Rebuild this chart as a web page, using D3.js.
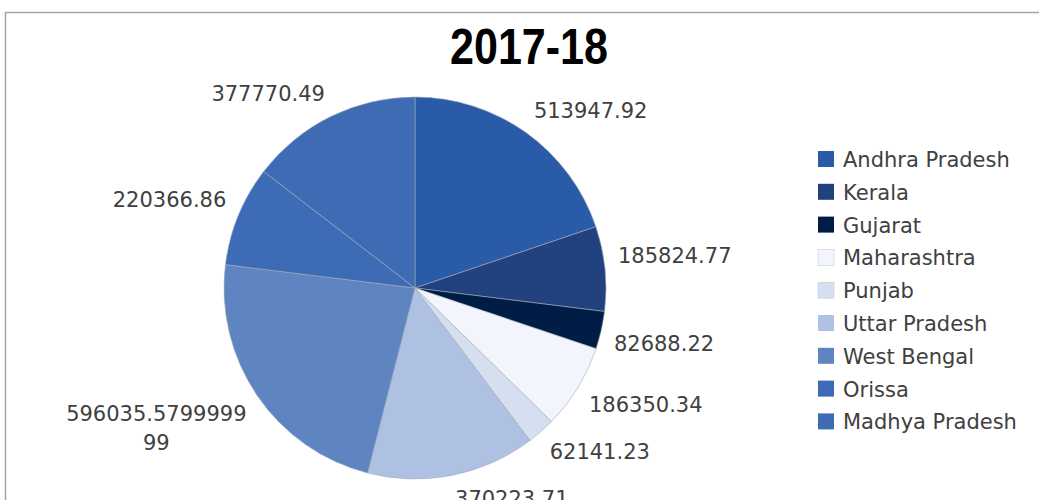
<!DOCTYPE html>
<html>
<head>
<meta charset="utf-8">
<script src="https://cdn.jsdelivr.net/npm/d3@7"></script>
<style>
  body { margin: 0; background: #fff; }
  svg { display: block; }
</style>
</head>
<body>
<div id="chart"></div>
<script>
var states = ["Andhra Pradesh", "Kerala", "Gujarat", "Maharashtra", "Punjab",
              "Uttar Pradesh", "West Bengal", "Orissa", "Madhya Pradesh"];
var values = [513947.92, 185824.77, 82688.22, 186350.34, 62141.23,
              370223.71, 596035.579999999, 220366.86, 377770.49];
var colors = ["#2a5ba8", "#21427f", "#001d45", "#f2f5fb", "#d6dff0",
              "#afc1e3", "#5f84c2", "#3d6bb5", "#3e6bb4"];
var title = "2017-18";

var width = 1039, height = 500;
var cx = 415, cy = 288, r = 191;

var svg = d3.select("#chart").append("svg")
    .attr("width", width).attr("height", height);

// chart frame
svg.append("rect")
    .attr("x", 5.5).attr("y", 12.5)
    .attr("width", 1100).attr("height", 600)
    .attr("fill", "none")
    .attr("stroke", "#a6a6a6").attr("stroke-width", 1.5);

svg.append("text")
    .attr("x", 529).attr("y", 64)
    .attr("text-anchor", "middle")
    .attr("font-family", "'Liberation Sans Narrow', 'Liberation Sans', sans-serif")
    .attr("font-weight", "bold")
    .attr("font-size", 50)
    .attr("textLength", 158).attr("lengthAdjust", "spacingAndGlyphs")
    .attr("fill", "#000")
    .text(title);

var color = d3.scaleOrdinal().domain(states).range(colors);

var pie = d3.pie().sort(null).value(function(d, i) { return values[i]; });
var arcs = pie(states);
var arc = d3.arc().innerRadius(0).outerRadius(r);

var g = svg.append("g").attr("transform", "translate(" + cx + "," + cy + ")");

g.selectAll("path")
  .data(arcs)
  .enter()
  .append("path")
  .attr("d", arc)
  .attr("fill", function(d) { return color(d.data); })
  .attr("stroke", "#a3abba")
  .attr("stroke-width", 0.6);

// data labels, outside end: nearest corner of the text box sits on the ring
var fontSize = 21, lineH = 29, ring = r + 13;
g.selectAll("text.lbl")
  .data(arcs)
  .enter()
  .append("text")
  .attr("class", "lbl")
  .attr("font-family", "'DejaVu Sans', sans-serif")
  .attr("font-size", fontSize)
  .attr("fill", "#404040")
  .attr("text-anchor", "middle")
  .each(function(d) {
    var s = String(values[d.index]);
    var lines = s.length > 14 ? [s.slice(0, 14), s.slice(14)] : [s];
    var t = d3.select(this);
    lines.forEach(function(l) {
      t.append("tspan").text(l);
    });
    var w = 0;
    t.selectAll("tspan").each(function() {
      w = Math.max(w, this.getComputedTextLength());
    });
    var h = (lines.length > 1 ? lineH : 22) * lines.length;
    var step = h / lines.length;
    var a = (d.startAngle + d.endAngle) / 2;
    var px = ring * Math.sin(a), py = -ring * Math.cos(a);
    var bx = px + (Math.sin(a) >= 0 ? 1 : -1) * w / 2;
    var by = py + (Math.cos(a) >= 0 ? -1 : 1) * h / 2;
    t.selectAll("tspan")
      .attr("x", bx)
      .attr("y", function(_, i) { return by - h / 2 + step * i + 18; });
  });

// legend
var legend = svg.append("g").attr("transform", "translate(818,151)");
var rows = legend.selectAll("g")
  .data(states)
  .enter()
  .append("g")
  .attr("transform", function(d, i) { return "translate(0," + (i * 32.8) + ")"; });

rows.append("rect")
  .attr("width", 16).attr("height", 16)
  .attr("fill", function(d) { return color(d); })
  .attr("stroke", function(d, i) { return i == 3 || i == 4 ? "#c8cdd6" : "none"; })
  .attr("stroke-width", 0.6);

rows.append("text")
  .attr("x", 25).attr("y", 16)
  .attr("font-family", "'DejaVu Sans', sans-serif")
  .attr("font-size", 21)
  .attr("fill", "#404040")
  .text(function(d) { return d; });
</script>
</body>
</html>
